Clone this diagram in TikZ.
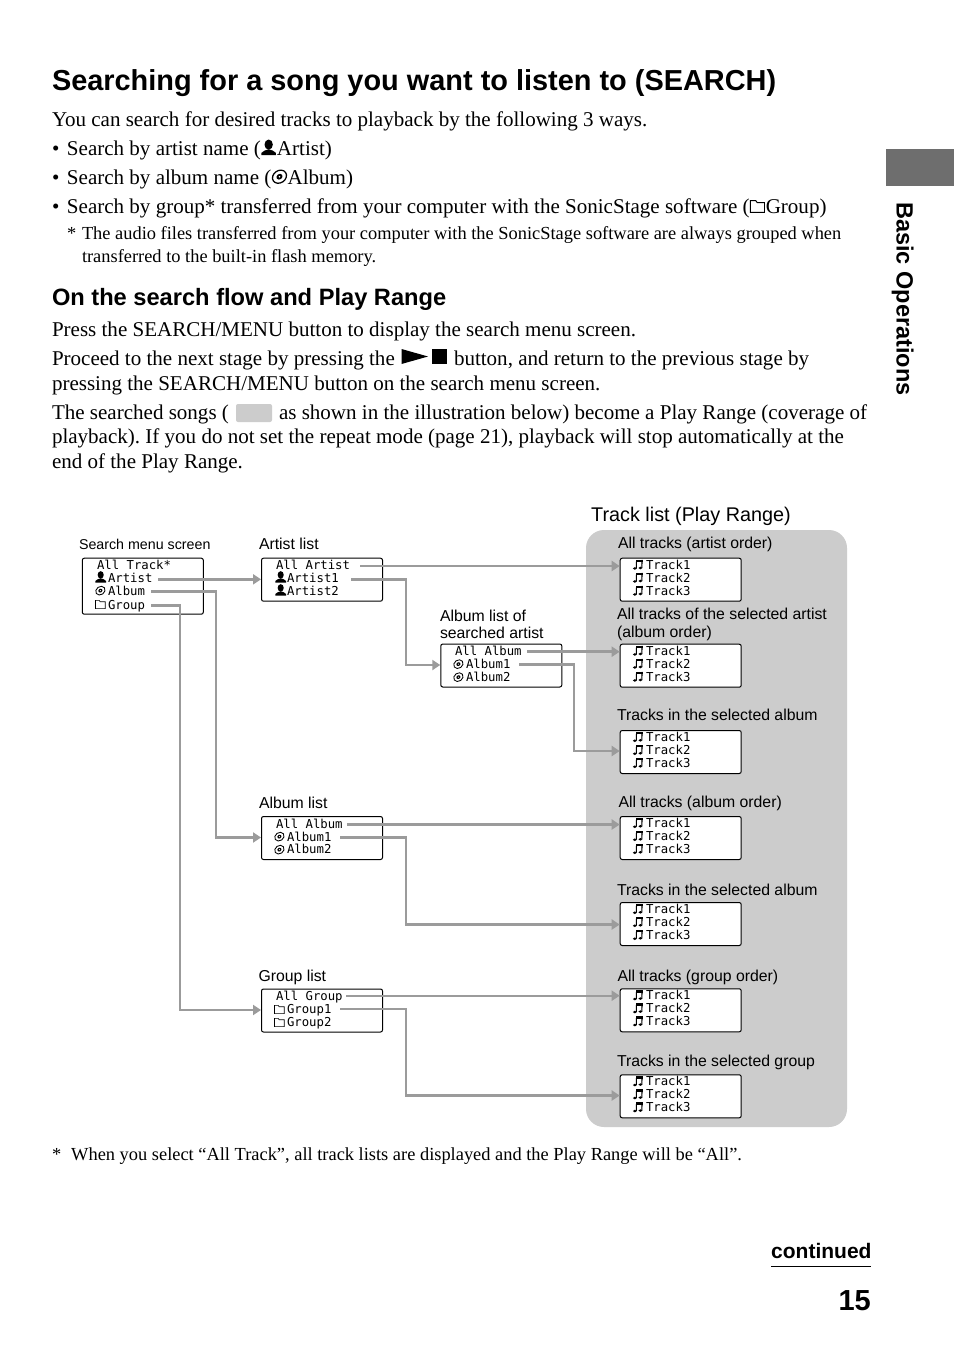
\documentclass[tikz,border=0pt]{standalone}
\usepackage{fontspec}
\setmainfont{Liberation Serif}
\setsansfont{Liberation Sans}
\setmonofont{DejaVu Sans Mono}
\usetikzlibrary{arrows.meta,calc}
\definecolor{panelgray}{HTML}{CCCCCC}
\definecolor{tabgray}{HTML}{6E6E6E}
\definecolor{conngray}{HTML}{9B9B9B}
\frenchspacing
\newcommand{\fs}[1]{\fontsize{#1}{#1}\selectfont}
% inline icons: #1 = unit size in pt, box is 12 units wide
\newcommand{\iperson}[1]{\tikz[x=#1pt,y=#1pt,baseline=0pt]{\useasboundingbox (0,0) rectangle (12,12);
  \fill[black] (6,8) ellipse (3.2 and 3.9);
  \fill[black] (0.4,0) -- (0.4,1.6) .. controls (1.5,3.5) and (4,3.6) .. (6,4.4) .. controls (8,3.6) and (10.5,3.5) .. (11.6,1.6) -- (11.6,0) -- cycle;}}
\newcommand{\idisc}[1]{\tikz[x=#1pt,y=#1pt,baseline=0pt]{\useasboundingbox (0,0) rectangle (12,12);
  \draw[black,line width=#1*0.95pt,rotate around={35:(6,5.4)}] (6,5.4) ellipse (5.5 and 4.5);
  \fill[black,rotate around={35:(6,5.4)}] (6,5.4) ellipse (2.4 and 2);
  \fill[white] (6,5.4) circle (0.7);}}
\newcommand{\ifolder}[1]{\tikz[x=#1pt,y=#1pt,baseline=0pt]{\useasboundingbox (0,0) rectangle (12,12);
  \draw[black,line width=#1*0.75pt] (0.6,0.4) -- (0.6,9.6) -- (4.6,9.6) -- (5.8,8) -- (11.4,8) -- (11.4,0.4) -- cycle;}}
\newcommand{\inote}[1]{\tikz[x=#1pt,y=#1pt,baseline=0pt]{\useasboundingbox (0,0) rectangle (12,12);
  \fill[black] (2.6,1.4) ellipse (2.2 and 1.5);
  \fill[black] (8.8,1.9) ellipse (2.2 and 1.5);
  \fill[black] (3.7,1.5) -- (4.9,1.5) -- (5,9) -- (3.8,9) -- cycle;
  \fill[black] (9.9,2) -- (11,2) -- (11.2,11) -- (10,11) -- cycle;
  \fill[black] (3.8,11) -- (11.2,11) -- (11.2,8.6) -- (3.8,8.6) -- cycle;}}
\newcommand{\bul}{\makebox[15pt][l]{•}}
\tikzset{
  body/.style={anchor=base west,inner sep=0pt,outer sep=0pt,font=\rmfamily\fs{21.03}},
  note/.style={anchor=base west,inner sep=0pt,outer sep=0pt,font=\rmfamily\fs{18.4}},
  title/.style={anchor=base west,inner sep=0pt,outer sep=0pt,font=\sffamily\bfseries\fs{28.9}},
  subtitle/.style={anchor=base west,inner sep=0pt,outer sep=0pt,font=\sffamily\bfseries\fs{23.65}},
  lab/.style={anchor=base west,inner sep=0pt,outer sep=0pt,font=\sffamily\fs{15.8}},
  labsmall/.style={anchor=base west,inner sep=0pt,outer sep=0pt,font=\sffamily\fs{14.25}},
  lcd/.style={anchor=base west,inner sep=0pt,outer sep=0pt,font=\ttfamily\fs{12.3}},
  ibox/.style={anchor=base west,inner sep=0pt,outer sep=0pt},
  screen/.style={draw=black,line width=1pt,rounded corners=2pt,fill=white,minimum width=121pt,minimum height=43pt,anchor=north west,inner sep=0pt},
  conn/.style={draw=conngray,line width=2.8pt,-{Triangle[length=8pt,width=10pt]}},
  connthin/.style={draw=conngray,line width=2.1pt,-{Triangle[length=8pt,width=10pt]}},
}
% #1 name, #2 top y
\newcommand{\trackbox}[2]{%
  \node[screen] (#1) at (619.7,#2) {};
  \node[ibox] (#1n1) at (632.5,#2+12) {\inote{0.9}};
  \node[ibox] (#1n2) at (632.5,#2+25) {\inote{0.9}};
  \node[ibox] (#1n3) at (632.5,#2+38) {\inote{0.9}};
  \node[lcd] (#1r1) at (646,#2+11.5) {Track1};
  \node[lcd] (#1r2) at (646,#2+24.5) {Track2};
  \node[lcd] (#1r3) at (646,#2+37.5) {Track3};
}
\begin{document}
\begin{tikzpicture}[x=1pt,y=-1pt]
\useasboundingbox (0,0) rectangle (954,1357);
\fill[white] (0,0) rectangle (954,1357);
% side tab
\fill[tabgray] (886,149) rectangle (954,186);
\node[font=\sffamily\bfseries\fs{23.5},rotate=-90,anchor=base west,inner sep=0pt] (side) at (896.5,202) {Basic Operations};
% heading and body
\node[title] (h1) at (52,90) {Searching for a song you want to listen to (SEARCH)};
\node[body] (l1) at (52,126) {You can search for desired tracks to playback by the following 3 ways.};
\node[body] (l2) at (52,155) {\bul Search by artist name (\iperson{1.3}\hspace{0.5pt}Artist)};
\node[body] (l3) at (52,184) {\bul Search by album name (\idisc{1.35}\hspace{0pt}Album)};
\node[body] (l4) at (52,213) {\bul Search by group* transferred from your computer with the SonicStage software (\ifolder{1.3}\hspace{0.5pt}Group)};
\node[note] (n1) at (67,239) {*};
\node[note] (n2) at (82,239) {The audio files transferred from your computer with the SonicStage software are always grouped when};
\node[note] (n3) at (82,262) {transferred to the built-in flash memory.};
\node[subtitle] (h2) at (52,305) {On the search flow and Play Range};
\node[body] (p1) at (52,336) {Press the SEARCH/MENU button to display the search menu screen.};
\node[body] (p2) at (52,365) {Proceed to the next stage by pressing the};
\fill[black] (401.5,349) -- (428,356.5) -- (401.5,364) -- cycle;
\fill[black] (431.5,349) rectangle (446.5,364);
\node[body] (p2b) at (454,365) {button, and return to the previous stage by};
\node[body] (p3) at (52,390) {pressing the SEARCH/MENU button on the search menu screen.};
\node[body] (p4) at (52,419) {The searched songs (};
\fill[panelgray,rounded corners=2pt] (236,404) rectangle (272,422);
\node[body] (p4b) at (279,419) {as shown in the illustration below) become a Play Range (coverage of};
\node[body] (p5) at (52,443) {playback). If you do not set the repeat mode (page 21), playback will stop automatically at the};
\node[body] (p6) at (52,468) {end of the Play Range.};
% diagram labels
\node[anchor=base west,inner sep=0pt,font=\sffamily\fs{19.8}] (tl) at (591,521) {Track list (Play Range)};
\fill[panelgray,rounded corners=18pt] (586,530) rectangle (847,1127);
\node[labsmall] (ls) at (79,549) {Search menu screen};
\node[lab] (la) at (259,549) {Artist list};
\node[lab] (lb1) at (440,621) {Album list of};
\node[lab] (lb2) at (440,638) {searched artist};
\node[lab] (lc) at (259,808) {Album list};
\node[lab] (ld) at (258.5,981) {Group list};
\node[lab] (t1l) at (618,548) {All tracks (artist order)};
\node[lab] (t2l1) at (617,619) {All tracks of the selected artist};
\node[lab] (t2l2) at (617,637) {(album order)};
\node[lab] (t3l) at (617,720) {Tracks in the selected album};
\node[lab] (t4l) at (618.5,807) {All tracks (album order)};
\node[lab] (t5l) at (617,895) {Tracks in the selected album};
\node[lab] (t6l) at (617.5,981) {All tracks (group order)};
\node[lab] (t7l) at (617,1066) {Tracks in the selected group};
% menu screen
\node[screen,minimum height=56pt] (menu) at (81.8,557.7) {};
\node[lcd] (m1) at (97,569) {All Track*};
\node[ibox] (mi2) at (95,582.5) {\iperson{0.95}};
\node[lcd] (m2) at (108,582) {Artist};
\node[ibox] (mi3) at (95,595.5) {\idisc{0.9}};
\node[lcd] (m3) at (108,595) {Album};
\node[ibox] (mi4) at (95,609) {\ifolder{0.9}};
\node[lcd] (m4) at (108,609) {Group};
% artist list
\node[screen] (art) at (261,557.7) {};
\node[lcd] (a1) at (276,569) {All Artist};
\node[ibox] (ai2) at (275,582.5) {\iperson{0.95}};
\node[lcd] (a2) at (287,582) {Artist1};
\node[ibox] (ai3) at (275,595.5) {\iperson{0.95}};
\node[lcd] (a3) at (287,595) {Artist2};
% album list of searched artist
\node[screen] (alb) at (440.3,643.5) {};
\node[lcd] (b1) at (455,655) {All Album};
\node[ibox] (bi2) at (453,669) {\idisc{0.9}};
\node[lcd] (b2) at (466,668) {Album1};
\node[ibox] (bi3) at (453,682) {\idisc{0.9}};
\node[lcd] (b3) at (466,681) {Album2};
% album list
\node[screen] (albl) at (261,816) {};
\node[lcd] (c1) at (276,828) {All Album};
\node[ibox] (ci2) at (274,841.5) {\idisc{0.9}};
\node[lcd] (c2) at (287,841) {Album1};
\node[ibox] (ci3) at (274,854.5) {\idisc{0.9}};
\node[lcd] (c3) at (287,853.5) {Album2};
% group list
\node[screen] (grp) at (261,988.5) {};
\node[lcd] (d1) at (276,1000) {All Group};
\node[ibox] (di2) at (274,1014) {\ifolder{0.9}};
\node[lcd] (d2) at (287,1013) {Group1};
\node[ibox] (di3) at (274,1027) {\ifolder{0.9}};
\node[lcd] (d3) at (287,1026) {Group2};
% track lists
\trackbox{t1}{557.7}
\trackbox{t2}{643.7}
\trackbox{t3}{730}
\trackbox{t4}{816}
\trackbox{t5}{902}
\trackbox{t6}{988.3}
\trackbox{t7}{1074.3}
% connector start points and bends
\coordinate (sm2) at (158,579.3);
\coordinate (sm3) at (151,591.3);
\coordinate (sm4) at (151,605.3);
\coordinate (vm3) at (216,837.5);
\coordinate (vm4) at (180,1010);
\coordinate (sa1) at (360,566);
\coordinate (sa2) at (351,579.3);
\coordinate (va2) at (406,665);
\coordinate (sb1) at (527,651.7);
\coordinate (sb2) at (519,664.3);
\coordinate (vb2) at (574,751);
\coordinate (sc1) at (347,824.5);
\coordinate (sc2) at (340,837.5);
\coordinate (vc2) at (406,924.5);
\coordinate (sd1) at (346,995.7);
\coordinate (sd2) at (340,1009);
\coordinate (vd2) at (406,1095.5);
% connectors
\draw[conn] (sm2) -- (sm2 -| art.west);
\draw[conn] (sm3) -- (sm3 -| vm3) -- (vm3) -- (vm3 -| albl.west);
\draw[conn] (sm4) -- (sm4 -| vm4) -- (vm4) -- (vm4 -| grp.west);
\draw[conn] (sa1) -- (sa1 -| t1.west);
\draw[conn] (sa2) -- (sa2 -| va2) -- (va2) -- (va2 -| alb.west);
\draw[conn] (sb1) -- (sb1 -| t2.west);
\draw[conn] (sb2) -- (sb2 -| vb2) -- (vb2) -- (vb2 -| t3.west);
\draw[conn] (sc1) -- (sc1 -| t4.west);
\draw[conn] (sc2) -- (sc2 -| vc2) -- (vc2) -- (vc2 -| t5.west);
\draw[connthin] (sd1) -- (sd1 -| t6.west);
\draw[connthin] (sd2) -- (sd2 -| vd2) -- (vd2) -- (vd2 -| t7.west);
% footer
\node[note] (f1) at (52,1160) {*\hspace{10pt}When you select “All Track”, all track lists are displayed and the Play Range will be “All”.};
\node[anchor=base west,inner sep=0pt,font=\sffamily\bfseries\fs{21}] (cont) at (771,1258.5) {continued};
\draw[black,line width=1pt] (771,1266.5) -- (871,1266.5);
\node[anchor=base east,inner sep=0pt,font=\sffamily\bfseries\fs{29}] (pg) at (871,1310) {15};
\end{tikzpicture}
\end{document}
